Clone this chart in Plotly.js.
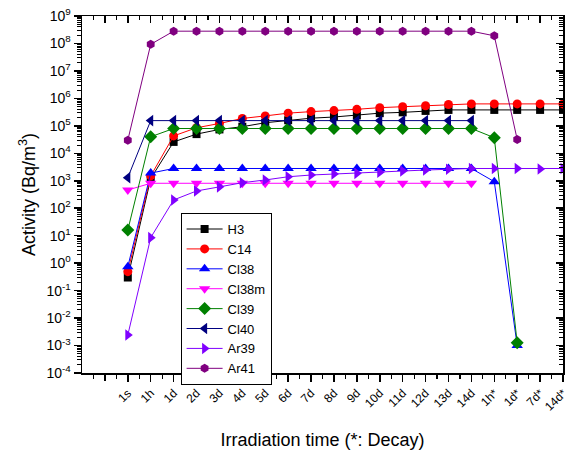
<!DOCTYPE html>
<html>
<head>
<meta charset="utf-8">
<script src="https://cdn.plot.ly/plotly-3.0.1.min.js"></script>
<style>html,body{margin:0;padding:0;background:#fff;}#chart{width:569px;height:450px;}</style>
</head>
<body>
<div id="chart"></div>
<script>
// Categories (x axis)
const categories = ['1s','1h','1d','2d','3d','4d','5d','6d','7d','8d','9d','10d','11d','12d','13d','14d','1h*','1d*','7d*','14d*'];

// Series values (Bq/m3); null = not plotted
const H3    = [0.30, 1.2e3, 2.6e4, 5.0e4, 7.4e4, 9.3e4, 1.3e5, 1.6e5, 1.9e5, 2.1e5, 2.4e5, 2.9e5, 3.1e5, 3.5e5, 3.8e5, 3.8e5, 3.8e5, 3.8e5, 3.8e5, 3.8e5];
const C14   = [0.49, 1.5e3, 4.3e4, 8.5e4, 1.22e5, 1.86e5, 2.3e5, 2.9e5, 3.3e5, 3.6e5, 4.0e5, 4.6e5, 5.0e5, 5.4e5, 6.0e5, 6.3e5, 6.3e5, 6.3e5, 6.3e5, 6.3e5];
const Cl38  = [0.74, 1.9e3, 2.8e3, 2.8e3, 2.8e3, 2.8e3, 2.8e3, 2.8e3, 2.8e3, 2.8e3, 2.8e3, 2.8e3, 2.8e3, 2.8e3, 2.8e3, 2.8e3, 930, 1.0e-3, null, null];
const Cl38m = [460, 810, 810, 810, 810, 810, 810, 810, 810, 810, 810, 810, 810, 810, 810, 810, null, null, null, null];
const Cl39  = [16, 4.0e4, 8.0e4, 8.0e4, 8.0e4, 8.0e4, 8.0e4, 8.0e4, 8.0e4, 8.0e4, 8.0e4, 8.0e4, 8.0e4, 8.0e4, 8.0e4, 8.0e4, 3.7e4, 1.26e-3, null, null];
const Cl40  = [1.3e3, 1.55e5, 1.55e5, 1.55e5, 1.55e5, 1.55e5, 1.55e5, 1.55e5, 1.55e5, 1.55e5, 1.55e5, 1.55e5, 1.55e5, 1.55e5, 1.55e5, 1.55e5, null, null, null, null];
const Ar39  = [2.4e-3, 8.5, 200, 425, 600, 850, 1070, 1400, 1620, 1780, 1860, 2040, 2280, 2460, 2620, 2800, 2800, 2800, 2700, 2800];
const Ar41  = [3.0e4, 9.3e7, 2.8e8, 2.8e8, 2.8e8, 2.8e8, 2.8e8, 2.8e8, 2.8e8, 2.8e8, 2.8e8, 2.8e8, 2.8e8, 2.8e8, 2.8e8, 2.8e8, 1.9e8, 3.2e4, null, null];

// Y tick exponents
const yExponents = [-4,-3,-2,-1,0,1,2,3,4,5,6,7,8,9];

const seriesNames = ['H3','C14','Cl38','Cl38m','Cl39','Cl40','Ar39','Ar41'];
const seriesData = [H3, C14, Cl38, Cl38m, Cl39, Cl40, Ar39, Ar41];
const colors = ['#000000','#ff0000','#0000ff','#ff00ff','#008000','#000080','#8000ff','#800080'];
const symbols = ['square','circle','triangle-up','triangle-down','diamond','triangle-left','triangle-right','hexagon'];
const sizes = [8,9,10,10,10,10,10,9];

const xIdx = categories.map((c,i)=>i);
const FONT = 'Liberation Sans, Arial, sans-serif';

const traces = seriesNames.map((name,k)=>({
  type:'scatter', mode:'lines+markers', name:name,
  x: xIdx, y: seriesData[k],
  line:{color:colors[k], width:1},
  marker:{color:colors[k], symbol:symbols[k], size:sizes[k], line:{width:0}},
  connectgaps:false
}));
// dummy traces for the mirrored (inside) ticks on top/right and the extra bottom tick
traces.push({type:'scatter', x:[], y:[], xaxis:'x2', yaxis:'y2', showlegend:false, hoverinfo:'skip'});
traces.push({type:'scatter', x:[], y:[], xaxis:'x3', yaxis:'y', showlegend:false, hoverinfo:'skip'});

const majorX = [-1].concat(xIdx);
const minorX = [];
for (let v=-1.5; v<19; v+=1) minorX.push(v);
const minorY = [];
for (let e=-4; e<9; e++) for (let m=2; m<=9; m++) minorY.push(m*Math.pow(10,e));
const yTickVals = yExponents.map(e=>Math.pow(10,e));
const yTickText = yExponents.map(e=>'10<sup>'+(e<0?'-':'')+Math.abs(e)+'</sup>');

const baseX = {range:[-2,19], showgrid:false, zeroline:false, showline:true, linecolor:'#000', linewidth:1.5};
const baseY = {type:'log', range:[-4,9], showgrid:false, zeroline:false, showline:true, linecolor:'#000', linewidth:1.5};

const layout = {
  width:569, height:450,
  margin:{l:82, r:6, t:16, b:77},
  paper_bgcolor:'#fff', plot_bgcolor:'#fff',
  font:{family:FONT, color:'#000'},
  showlegend:true,
  legend:{x:0.205, y:0.448, xanchor:'left', yanchor:'top', bgcolor:'#fff', bordercolor:'#000', borderwidth:1,
          font:{size:13, family:FONT}, tracegroupgap:0, itemwidth:36},
  xaxis: Object.assign({}, baseX, {
    tickmode:'array', tickvals:xIdx, ticktext:categories, tickangle:-45, ticklabeloverflow:'allow',
    ticks:'outside', ticklen:7, tickwidth:1.5, tickcolor:'#000',
    tickfont:{size:12, family:FONT},
    minor:{tickmode:'array', tickvals:minorX, ticks:'outside', ticklen:4, tickwidth:1.2, tickcolor:'#000', showgrid:false},
    title:{text:'Irradiation time (*: Decay)', font:{size:18, family:FONT}, standoff:22}
  }),
  xaxis3: Object.assign({}, baseX, {
    overlaying:'x', side:'bottom', anchor:'y', showline:false,
    tickmode:'array', tickvals:[-1], showticklabels:false,
    ticks:'outside', ticklen:7, tickwidth:1.5, tickcolor:'#000'
  }),
  yaxis: Object.assign({}, baseY, {
    tickmode:'array', tickvals:yTickVals, ticktext:yTickText,
    ticks:'outside', ticklen:7, tickwidth:1.5, tickcolor:'#000',
    tickfont:{size:14, family:FONT},
    minor:{tickmode:'array', tickvals:minorY, ticks:'outside', ticklen:4, tickwidth:1, tickcolor:'#000', showgrid:false},
    title:{text:'Activity (Bq/m<sup>3</sup>)', font:{size:18, family:FONT}, standoff:6}
  }),
  xaxis2: Object.assign({}, baseX, {
    overlaying:'x', side:'top', anchor:'y2',
    tickmode:'array', tickvals:majorX, showticklabels:false,
    ticks:'inside', ticklen:7, tickwidth:1.5, tickcolor:'#000',
    minor:{tickmode:'array', tickvals:minorX, ticks:'inside', ticklen:4, tickwidth:1.2, tickcolor:'#000', showgrid:false}
  }),
  yaxis2: Object.assign({}, baseY, {
    overlaying:'y', side:'right', anchor:'x2',
    tickmode:'array', tickvals:yTickVals, showticklabels:false,
    ticks:'inside', ticklen:7, tickwidth:1.5, tickcolor:'#000',
    minor:{tickmode:'array', tickvals:minorY, ticks:'inside', ticklen:4, tickwidth:1, tickcolor:'#000', showgrid:false}
  })
};

Plotly.newPlot('chart', traces, layout, {displayModeBar:false, staticPlot:true});
</script>
</body>
</html>
